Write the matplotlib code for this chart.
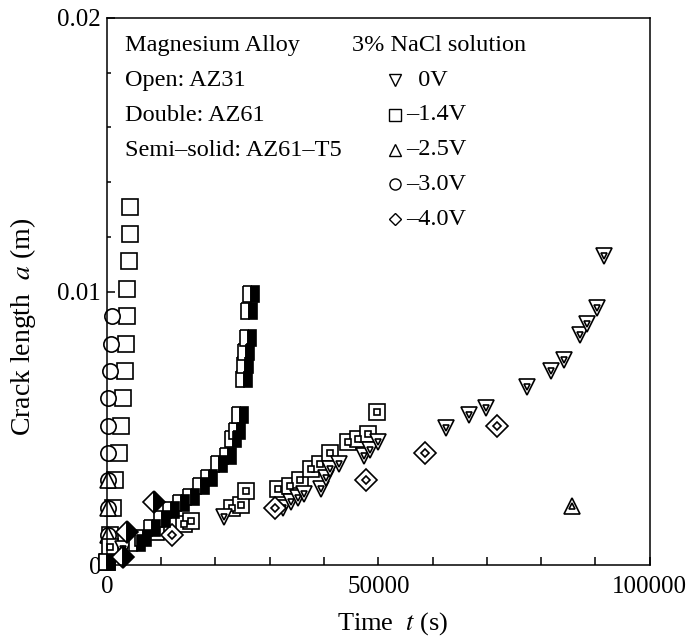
import matplotlib
matplotlib.use('Agg')
import matplotlib.pyplot as plt
from matplotlib.ticker import MultipleLocator

plt.rcParams['font.family'] = ['Liberation Serif', 'DejaVu Serif']
plt.rcParams['mathtext.fontset'] = 'stix'

# AZ31 (open markers)
az31_m14_t = [0, 500, 1100, 1600, 2200, 2700, 3000, 3300, 3500, 3800, 3800, 4000, 4200, 4200]
az31_m14_a = [0.0001, 0.0011, 0.0021, 0.0031, 0.0041, 0.0051, 0.0061, 0.0071, 0.0081,
              0.0091, 0.0101, 0.0111, 0.0121, 0.0131]
az31_m30_t = [0, 300, 300, 300, 300, 300, 300, 500, 700, 900]
az31_m30_a = [0.0001, 0.0011, 0.0021, 0.0031, 0.0041, 0.0051, 0.0061, 0.0071, 0.0081, 0.0091]
az31_m25_t = [300, 300, 300]
az31_m25_a = [0.0011, 0.0021, 0.0031]

# AZ61 (double markers)
az61_0_t = [2900, 21500, 32400, 33900, 35200, 36400, 39400, 40300, 41200, 42800, 47300,
            48500, 50000, 62500, 66700, 69900, 77400, 81800, 84300, 87200, 88500, 90300, 91600]
az61_0_a = [0.0006, 0.00176, 0.0021, 0.0023, 0.00245, 0.0026, 0.0028, 0.0032, 0.0035, 0.0037,
            0.0040, 0.0042, 0.0045, 0.0050, 0.0055, 0.00575, 0.0065, 0.0071, 0.0075, 0.0084,
            0.0088, 0.0094, 0.0113]
az61_m14_t = [500, 9100, 14200, 15500, 23000, 24800, 25700, 31500, 33700, 35500, 37600,
              39300, 41100, 44500, 46300, 48100, 49800]
az61_m14_a = [0.00066, 0.0012, 0.0015, 0.0016, 0.0021, 0.0022, 0.0027, 0.0028, 0.0029,
              0.0031, 0.0035, 0.0037, 0.0041, 0.0045, 0.0046, 0.0048, 0.0056]
az61_m25_t = [85600]
az61_m25_a = [0.00216]
az61_m40_t = [12000, 31000, 47700, 58600, 71900]
az61_m40_a = [0.0011, 0.0021, 0.0031, 0.0041, 0.0051]

# AZ61-T5 (semi-solid markers)
t5_m14_t = [0, 5600, 6600, 8400, 10200, 11800, 13700, 15500, 17300, 18800, 20600, 22400,
            23300, 23900, 24600, 25300, 25500, 25700, 26000, 26200, 26600]
t5_m14_a = [0.0001, 0.0008, 0.0010, 0.00135, 0.0017, 0.0020, 0.00227, 0.0025, 0.0029,
            0.0032, 0.0037, 0.0040, 0.0046, 0.0049, 0.0055, 0.0068, 0.0073, 0.0078, 0.0083,
            0.0093, 0.0099]
t5_m40_t = [2900, 3800, 8700]
t5_m40_a = [0.0003, 0.0012, 0.0023]

fig = plt.figure(figsize=(6.89, 6.40), dpi=100)
ax = fig.add_axes([0.155, 0.117, 0.788, 0.855])

ms = 11
mew = 1.2
inner = 4.5


def open_pts(t, a, m):
    ax.plot(t, a, m, ls='none', ms=ms, mfc='white', mec='black', mew=mew, clip_on=False)


def double_pts(t, a, m):
    ax.plot(t, a, m, ls='none', ms=ms, mfc='white', mec='black', mew=mew, clip_on=False)
    ax.plot(t, a, m, ls='none', ms=inner, mfc='white', mec='black', mew=mew, clip_on=False)


def semi_pts(t, a, m):
    ax.plot(t, a, m, ls='none', ms=ms, fillstyle='left', mfc='white',
            markerfacecoloralt='black', mec='black', mew=mew, clip_on=False)


open_pts(az31_m14_t, az31_m14_a, 's')
open_pts(az31_m30_t, az31_m30_a, 'o')
open_pts(az31_m25_t, az31_m25_a, '^')
double_pts(az61_m14_t, az61_m14_a, 's')
double_pts(az61_0_t, az61_0_a, 'v')
double_pts(az61_m25_t, az61_m25_a, '^')
double_pts(az61_m40_t, az61_m40_a, 'D')
semi_pts(t5_m14_t, t5_m14_a, 's')
semi_pts(t5_m40_t, t5_m40_a, 'D')

ax.set_xlim(0, 100000)
ax.set_ylim(0, 0.02)
ax.set_xticks([0, 50000, 100000])
ax.set_xticklabels(['0', '50000', '100000'])
ax.set_yticks([0, 0.01, 0.02])
ax.set_yticklabels(['0', '0.01', '0.02'])
ax.xaxis.set_minor_locator(MultipleLocator(10000))
ax.yaxis.set_minor_locator(MultipleLocator(0.002))
ax.tick_params(which='both', direction='in', top=False, right=False, width=1.1)
ax.tick_params(axis='x', which='major', length=6, pad=8, labelsize=18)
ax.tick_params(axis='x', which='minor', length=6)
ax.tick_params(axis='y', which='major', length=6, pad=4, labelsize=18)
ax.tick_params(axis='y', which='minor', length=3)
for s in ax.spines.values():
    s.set_linewidth(1.1)

ax.set_xlabel('Time  $t$ (s)', fontsize=19)
ax.set_ylabel('Crack length  $a$ (m)', fontsize=20)
ax.xaxis.set_label_coords(0.527, -0.083)
ax.yaxis.set_label_coords(-0.126, 0.435)

# text legend
left_lines = ['Magnesium Alloy', 'Open: AZ31', 'Double: AZ61', 'Semi\u2013solid: AZ61\u2013T5']
for i, s in enumerate(left_lines):
    ax.text(0.033, 0.95 - i * 0.064, s, transform=ax.transAxes, fontsize=17.5, va='center')
ax.text(0.451, 0.95, '3% NaCl solution', transform=ax.transAxes, fontsize=17.5, va='center')
leg_markers = ['v', 's', '^', 'o', 'D']
leg_labels = ['  0V', '\u20131.4V', '\u20132.5V', '\u20133.0V', '\u20134.0V']
for i, (m, lab) in enumerate(zip(leg_markers, leg_labels)):
    y = 0.95 - (i + 1) * 0.0635
    ax.plot([0.531], [y], m, transform=ax.transAxes, ms=8 if m != 'D' else 6.5,
            mfc='white', mec='black', mew=1.0, clip_on=False)
    ax.text(0.551, y, lab, transform=ax.transAxes, fontsize=17.5, va='center')

fig.savefig('out.png', dpi=100)
